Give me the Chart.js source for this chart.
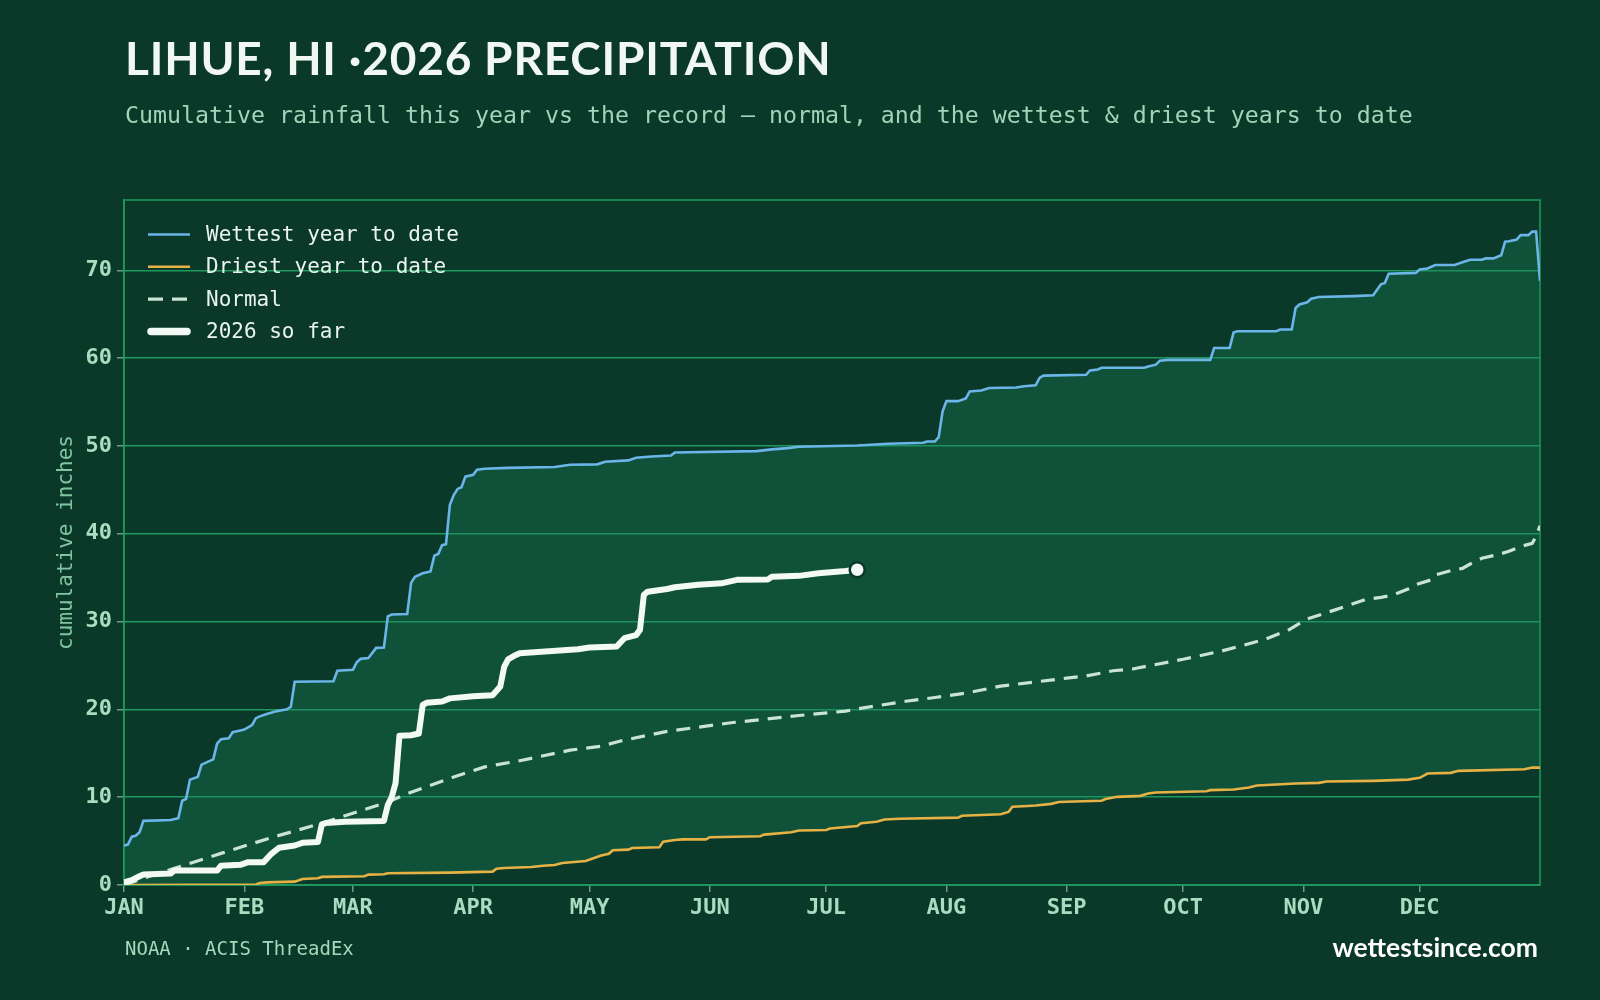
<!DOCTYPE html>
<html>
<head>
<meta charset="utf-8">
<title>Lihue, HI 2026 precipitation</title>
<script src="https://cdn.jsdelivr.net/npm/chart.js@4"></script>
<style>
  body { margin: 0; background: #0b3929; }
  #wrap { position: relative; width: 1600px; height: 1000px; background: #0b3929; overflow: hidden; }
  #chart { position: absolute; left: 0; top: 0; }
  .txt { position: absolute; white-space: nowrap; }
  #title { left: 125px; top: 35px; font: bold 46px Lato, "Liberation Sans", sans-serif; line-height: 46px; letter-spacing: 0.8px; color: #f1f8f3; }
  #subtitle { left: 125px; top: 103px; font: 23.25px "DejaVu Sans Mono", monospace; line-height: 23px; color: #9fd5b8; }
  #source { left: 125px; top: 939px; font: 19px "DejaVu Sans Mono", monospace; line-height: 19px; color: #a6d8bd; }
  #site { right: 62px; top: 934px; font: bold 26.5px Lato, "Liberation Sans", sans-serif; line-height: 26px; color: #ffffff; }
</style>
</head>
<body>
<div id="wrap">
  <canvas id="chart" width="1600" height="1000"></canvas>
  <div class="txt" id="title">LIHUE, HI ·2026 PRECIPITATION</div>
  <div class="txt" id="subtitle">Cumulative rainfall this year vs the record — normal, and the wettest &amp; driest years to date</div>
  <div class="txt" id="source">NOAA · ACIS ThreadEx</div>
  <div class="txt" id="site">wettestsince.com</div>
</div>
<script>
// axis labels
const monthDays = [0, 31, 59, 90, 120, 151, 181, 212, 243, 273, 304, 334];
const monthLabels = ['JAN', 'FEB', 'MAR', 'APR', 'MAY', 'JUN', 'JUL', 'AUG', 'SEP', 'OCT', 'NOV', 'DEC'];
const yTicks = [0, 10, 20, 30, 40, 50, 60, 70];

// [day of year, cumulative inches]
const wettest = [[0,4.5],[1,4.6],[2,5.5],[3,5.6],[4,6.0],[5,7.3],[12,7.4],[14,7.6],[15,9.6],[16,9.8],[17,12.0],[19,12.3],[20,13.7],[21,13.9],[23,14.3],[24,16.1],[25,16.6],[27,16.7],[28,17.4],[30,17.6],[31,17.7],[33,18.2],[34,19.0],[35,19.2],[37,19.5],[39,19.75],[42,20.0],[43,20.3],[44,23.15],[54,23.2],[55,24.4],[59,24.5],[60,25.35],[61,25.75],[63,25.85],[65,27.0],[67,27.05],[68,30.6],[69,30.8],[73,30.85],[74,34.4],[75,35.1],[77,35.5],[79,35.7],[80,37.5],[81,37.7],[82,38.7],[83,38.8],[84,43.3],[85,44.4],[86,45.1],[87,45.3],[88,46.5],[90,46.7],[91,47.3],[93,47.4],[99,47.5],[111,47.6],[115,47.85],[122,47.9],[124,48.2],[130,48.35],[132,48.65],[136,48.8],[141,48.9],[142,49.25],[163,49.4],[167,49.6],[171,49.75],[174,49.9],[189,50.05],[197,50.25],[206,50.35],[207,50.5],[209,50.5],[210,51.0],[211,53.9],[212,55.1],[215,55.1],[217,55.4],[218,56.2],[221,56.3],[223,56.6],[230,56.65],[232,56.8],[235,56.9],[236,57.75],[237,58.0],[248,58.1],[249,58.6],[251,58.7],[252,58.9],[263,58.9],[264,59.05],[266,59.25],[267,59.7],[269,59.8],[280,59.8],[281,61.15],[285,61.15],[286,62.9],[287,63.05],[297,63.05],[298,63.25],[301,63.25],[302,65.7],[303,66.1],[305,66.35],[306,66.75],[308,66.95],[317,67.05],[322,67.15],[324,68.4],[325,68.55],[326,69.6],[333,69.7],[334,70.1],[336,70.2],[338,70.6],[343,70.6],[345,70.9],[347,71.2],[350,71.2],[351,71.35],[353,71.35],[355,71.7],[356,73.25],[357,73.3],[359,73.5],[360,74.0],[362,74.0],[363,74.4],[364,74.4],[365,68.8]];

const driest = [[0,0],[34,0.05],[35,0.23],[37,0.3],[44,0.38],[46,0.68],[50,0.76],[51,0.92],[62,1.0],[63,1.18],[67,1.22],[68,1.33],[84,1.41],[95,1.52],[96,1.86],[98,1.94],[105,2.05],[108,2.2],[111,2.28],[113,2.5],[119,2.74],[121,3.04],[123,3.35],[125,3.55],[126,3.96],[130,4.03],[131,4.22],[138,4.3],[139,4.94],[142,5.13],[144,5.2],[150,5.2],[151,5.44],[164,5.55],[165,5.74],[172,6.0],[174,6.2],[181,6.27],[182,6.43],[189,6.72],[190,7.03],[194,7.21],[196,7.45],[200,7.55],[215,7.67],[216,7.88],[226,8.06],[228,8.32],[229,8.92],[233,9.0],[235,9.05],[239,9.24],[241,9.45],[245,9.5],[252,9.6],[253,9.79],[256,10.04],[262,10.15],[264,10.42],[266,10.53],[279,10.68],[280,10.8],[286,10.87],[290,11.1],[292,11.33],[297,11.44],[302,11.55],[308,11.63],[310,11.78],[322,11.86],[331,12.0],[334,12.2],[336,12.69],[342,12.77],[344,13.0],[361,13.18],[363,13.37],[365,13.37]];

const normal = [[0,0],[9,1.35],[13,1.9],[25,3.6],[38,5.4],[50,6.9],[68,9.45],[73,10.4],[85,12.3],[93,13.45],[102,14.15],[115,15.35],[123,15.8],[128,16.4],[140,17.5],[157,18.5],[174,19.3],[186,19.8],[191,20.2],[202,20.95],[209,21.35],[217,21.85],[226,22.65],[243,23.55],[248,23.8],[255,24.4],[260,24.6],[273,25.7],[283,26.65],[294,27.95],[300,29.0],[305,30.3],[312,31.3],[320,32.5],[324,32.75],[327,33.0],[331,33.7],[333,34.2],[337,34.75],[338,35.3],[342,35.8],[345,36.05],[347,36.55],[350,37.2],[354,37.6],[357,38.0],[360,38.55],[363,38.9],[364,39.7],[365,40.9]];

const thisYear = [[0,0.3],[2,0.55],[4,1.0],[5,1.2],[12,1.3],[13,1.65],[24,1.65],[25,2.2],[30,2.3],[32,2.6],[36,2.6],[38,3.55],[40,4.25],[44,4.5],[46,4.8],[50,4.9],[51,6.9],[52,7.05],[57,7.2],[67,7.3],[68,9.1],[69,10.0],[70,11.6],[71,17.0],[74,17.05],[76,17.25],[77,20.5],[78,20.75],[82,20.9],[84,21.25],[90,21.5],[95,21.6],[97,22.6],[98,24.85],[99,25.7],[101,26.2],[102,26.4],[117,26.85],[120,27.05],[127,27.15],[129,28.1],[132,28.45],[133,29.05],[134,33.05],[135,33.4],[140,33.7],[142,33.9],[148,34.2],[154,34.35],[158,34.75],[166,34.8],[167,35.1],[174,35.2],[179,35.5],[186,35.75],[189,35.9]];

const seriesNames = ['Wettest year to date', 'Driest year to date', 'Normal', '2026 so far'];

const BG = '#0b3929';
const GRID = '#1f9a5f';
const TICK_TXT = '#a9dcc0';

function toPoints(pairs) {
    return pairs.map(p => ({ x: p[0], y: p[1] }));
}

//frame round the plot area
const framePlugin = {
    id: 'frame',
    beforeDatasetsDraw(chart) {
        const a = chart.chartArea;
        const ctx = chart.ctx;
        ctx.save();
        ctx.strokeStyle = GRID;
        ctx.lineWidth = 1.5;
        ctx.strokeRect(a.left, a.top, a.right - a.left, a.bottom - a.top);
        ctx.restore();
    }
};

//legend inside the plot, top left
const insideLegend = {
    id: 'insideLegend',
    afterDatasetsDraw(chart) {
        const ctx = chart.ctx;
        const a = chart.chartArea;
        const x0 = a.left + 24;
        const rowH = 32.3;
        ctx.save();
        ctx.font = '21px "DejaVu Sans Mono", monospace';
        ctx.textBaseline = 'middle';
        seriesNames.forEach((name, i) => {
            const ds = chart.data.datasets[i];
            const y = a.top + 34.5 + i * rowH;
            ctx.beginPath();
            ctx.strokeStyle = ds.borderColor;
            ctx.lineWidth = i === 3 ? 7.5 : (i === 2 ? 3.2 : ds.borderWidth);
            ctx.lineCap = i === 3 ? 'round' : 'butt';
            ctx.setLineDash(i === 2 ? [15, 9] : []);
            ctx.moveTo(x0 + (i === 3 ? 3 : 0), y);
            ctx.lineTo(x0 + 42 - (i === 3 ? 3 : 0), y);
            ctx.stroke();
            ctx.setLineDash([]);
            ctx.fillStyle = '#eaf4ee';
            ctx.fillText(name, x0 + 58, y + 1);
        });
        ctx.restore();
    }
};

const ctx = document.getElementById('chart').getContext('2d');
const lastIdx = thisYear.length - 1;

new Chart(ctx, {
    type: 'line',
    data: {
        datasets: [
            {
                label: seriesNames[0],
                data: toPoints(wettest),
                borderColor: '#6cb5e9',
                borderWidth: 2.6,
                fill: 1,
                backgroundColor: 'rgba(27,130,90,0.34)',
                pointRadius: 0,
                order: 3
            },
            {
                label: seriesNames[1],
                data: toPoints(driest),
                borderColor: '#e6b246',
                borderWidth: 2.6,
                fill: false,
                pointRadius: 0,
                order: 2
            },
            {
                label: seriesNames[2],
                data: toPoints(normal),
                borderColor: '#c9e3d4',
                borderWidth: 3.2,
                borderDash: [14, 9],
                fill: false,
                pointRadius: 0,
                order: 1
            },
            {
                label: seriesNames[3],
                data: toPoints(thisYear),
                borderColor: '#f3faf6',
                borderWidth: 6,
                borderJoinStyle: 'round',
                borderCapStyle: 'round',
                fill: false,
                pointRadius: (c) => c.dataIndex === lastIdx ? 7.5 : 0,
                pointBackgroundColor: '#f3faf6',
                pointBorderColor: BG,
                pointBorderWidth: 2.5,
                order: 0
            }
        ]
    },
    options: {
        responsive: false,
        devicePixelRatio: 1,
        animation: false,
        events: [],
        layout: { padding: { top: 200, right: 60, left: 0, bottom: 0 } },
        elements: { line: { tension: 0 } },
        plugins: {
            legend: { display: false },
            tooltip: { enabled: false }
        },
        scales: {
            x: {
                type: 'linear',
                min: 0,
                max: 365,
                afterBuildTicks: (scale) => { scale.ticks = monthDays.map(v => ({ value: v })); },
                afterFit: (scale) => { scale.height = 115; },
                ticks: {
                    autoSkip: false,
                    maxRotation: 0,
                    padding: 3,
                    color: TICK_TXT,
                    font: { family: 'DejaVu Sans Mono', weight: 'bold', size: 22 },
                    callback: (value) => monthLabels[monthDays.indexOf(value)]
                },
                grid: { drawOnChartArea: false, tickLength: 7, tickColor: '#6f9a84', lineWidth: 1.5 },
                border: { color: GRID, width: 1.5 }
            },
            y: {
                min: 0,
                max: 78,
                afterBuildTicks: (scale) => { scale.ticks = yTicks.map(v => ({ value: v })); },
                afterFit: (scale) => { scale.width = 124; },
                ticks: {
                    padding: 5,
                    color: TICK_TXT,
                    font: { family: 'DejaVu Sans Mono', weight: 'bold', size: 22 }
                },
                grid: { color: GRID, lineWidth: 1.5, tickLength: 7, tickColor: '#6f9a84' },
                border: { color: GRID, width: 1.5 },
                title: {
                    display: true,
                    text: 'cumulative inches',
                    color: '#7fc3a0',
                    font: { family: 'DejaVu Sans Mono', size: 21 },
                    padding: { top: 54, bottom: 0 }
                }
            }
        }
    },
    plugins: [framePlugin, insideLegend]
});
</script>
</body>
</html>
